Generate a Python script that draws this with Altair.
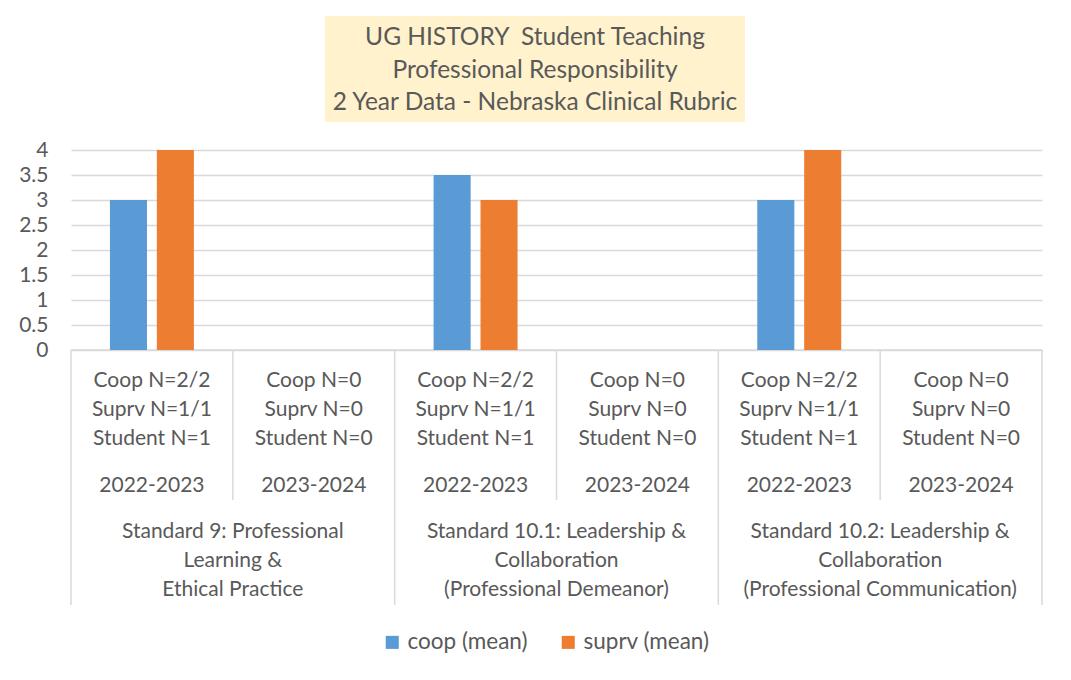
import altair as alt
import pandas as pd

# ---- data ----
standards = [
    "Standard 9: Professional\nLearning &\nEthical Practice",
    "Standard 10.1: Leadership &\nCollaboration\n(Professional Demeanor)",
    "Standard 10.2: Leadership &\nCollaboration\n(Professional Communication)",
]
years = ["2022-2023", "2023-2024"]
n_labels = ["Coop N=2/2\nSuprv N=1/1\nStudent N=1", "Coop N=0\nSuprv N=0\nStudent N=0"]
coop_mean = [3, None, 3.5, None, 3, None]
suprv_mean = [4, None, 3, None, 4, None]
series = ["coop (mean)", "suprv (mean)"]
colors = ["#5B9BD5", "#ED7D31"]
title_text_str = "UG HISTORY \u00a0Student Teaching\nProfessional Responsibility\n2 Year Data - Nebraska Clinical Rubric"

slots = [f"{i}" for i in range(len(standards) * len(years))]

rows = []
for i, s in enumerate(slots):
    for name, vals in zip(series, [coop_mean, suprv_mean]):
        if vals[i] is not None:
            rows.append({"slot": s, "series": name, "value": vals[i]})
bars_df = pd.DataFrame(rows)

slot_df = pd.DataFrame({
    "slot": slots,
    "year": [years[i % 2] for i in range(len(slots))],
    "nlab": [n_labels[i % 2] for i in range(len(slots))],
})
group_df = pd.DataFrame({"slot": [slots[2 * g] for g in range(len(standards))],
                         "std": standards})
short_sep = pd.DataFrame({"slot": [slots[i] for i in (1, 3, 5)]})
long_sep = pd.DataFrame({"slot": [slots[i] for i in (0, 2, 4)]})
end_sep = pd.DataFrame({"slot": [slots[-1]]})
title_df = pd.DataFrame({"t": [title_text_str]})

W, H = 971, 200
SLOT_W = W / len(slots)
FONT = "Lato"
FS = 21
GRAY = "#595959"
LINE = "#D9D9D9"

xs = alt.Scale(domain=slots, paddingInner=0, paddingOuter=0)
ys = alt.Scale(domain=[0, 4])

bars = alt.Chart(bars_df).mark_bar().encode(
    x=alt.X("slot:N", scale=xs, axis=None, sort=slots),
    xOffset=alt.XOffset("series:N", scale=alt.Scale(domain=series, paddingInner=0.21, paddingOuter=0.83)),
    y=alt.Y("value:Q", scale=ys,
            axis=alt.Axis(values=[0, 0.5, 1, 1.5, 2, 2.5, 3, 3.5, 4], format="~g",
                          title=None, grid=True, gridColor=LINE, gridWidth=1.5, domain=False,
                          ticks=False, labelFont=FONT, labelFontSize=FS, labelColor=GRAY,
                          labelPadding=23)),
    color=alt.Color("series:N", scale=alt.Scale(domain=series, range=colors),
                    legend=alt.Legend(title=None, orient="none", direction="horizontal",
                                      legendX=310, legendY=481, symbolType="square",
                                      symbolSize=170, symbolStrokeWidth=0, labelFont=FONT,
                                      labelFontSize=22.5, labelColor=GRAY, columnPadding=29,
                                      labelOffset=4)),
)

xaxis_line = alt.Chart(pd.DataFrame({"v": [0]})).mark_rule(color=LINE, strokeWidth=1.5).encode(
    y=alt.value(H), x=alt.value(0), x2=alt.value(W))

short_rules = alt.Chart(short_sep).mark_rule(color=LINE, strokeWidth=1.5).encode(
    x=alt.X("slot:N", scale=xs, axis=None, bandPosition=0), y=alt.value(H), y2=alt.value(350))
long_rules = alt.Chart(long_sep).mark_rule(color=LINE, strokeWidth=1.5).encode(
    x=alt.X("slot:N", scale=xs, axis=None, bandPosition=0), y=alt.value(H), y2=alt.value(455))
end_rule = alt.Chart(end_sep).mark_rule(color=LINE, strokeWidth=1.5).encode(
    x=alt.X("slot:N", scale=xs, axis=None, bandPosition=1), y=alt.value(H), y2=alt.value(455))

n_text = alt.Chart(slot_df).mark_text(font=FONT, fontSize=FS, color=GRAY, lineBreak="\n",
                                      lineHeight=29, baseline="middle", align="center").encode(
    x=alt.X("slot:N", scale=xs, axis=None), y=alt.value(231), text="nlab:N")
year_text = alt.Chart(slot_df).mark_text(font=FONT, fontSize=FS, color=GRAY, baseline="middle",
                                         align="center").encode(
    x=alt.X("slot:N", scale=xs, axis=None), y=alt.value(336), text="year:N")
group_text = alt.Chart(group_df).mark_text(font=FONT, fontSize=FS, color=GRAY, lineBreak="\n",
                                           lineHeight=29, baseline="middle", align="center",
                                           dx=SLOT_W / 2).encode(
    x=alt.X("slot:N", scale=xs, axis=None), y=alt.value(382), text="std:N")

title_box = alt.Chart(pd.DataFrame({"a": [0]})).mark_rect(color="#FFF2CC").encode(
    x=alt.value(254), x2=alt.value(674), y=alt.value(-134), y2=alt.value(-28))
title_text = alt.Chart(title_df).mark_text(font=FONT, fontSize=24.5, color=GRAY, baseline="middle",
                                           align="center", lineBreak="\n", lineHeight=32.5).encode(
    x=alt.value(464), y=alt.value(-112), text="t:N")

chart = alt.layer(
    title_box, title_text, xaxis_line, bars, short_rules, long_rules, end_rule,
    n_text, year_text, group_text,
).properties(
    width=W, height=H,
    autosize=alt.AutoSizeParams(type="none"),
    padding={"left": 63, "top": 142, "right": 21, "bottom": 322},
    background="white",
).configure_view(stroke=None)

chart.save("out.html", embed_options={"renderer": "svg", "actions": False})
